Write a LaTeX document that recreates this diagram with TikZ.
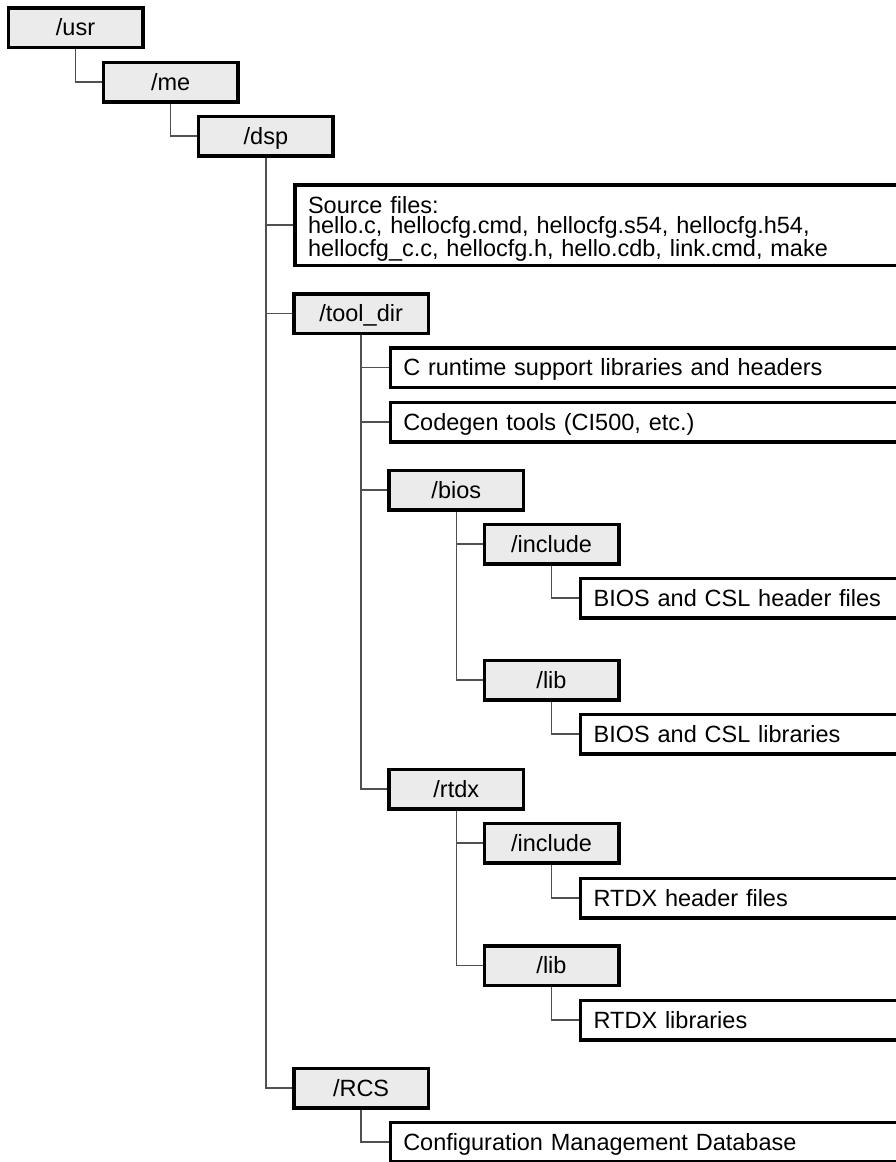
\documentclass[tikz,border=0pt]{standalone}
\usepackage{fontspec}
\setmainfont{Liberation Sans}
\usepackage{tikz}
\definecolor{dirgray}{HTML}{EBEBEB}
\definecolor{linegray}{HTML}{505050}
\tikzset{
    dirbox/.style={draw, line width=3.5pt, fill=dirgray, minimum width=134.5pt, minimum height=39.5pt,
        inner sep=0pt, text height=16.8pt, text depth=0pt},
    filebox/.style={draw, line width=3.5pt, fill=white, anchor=west, minimum height=39.5pt,
        inner xsep=13pt, inner ysep=0pt, align=left, text width=#1, text height=16.8pt, text depth=0pt},
    branch/.style={draw=linegray, line width=1.3pt}
}

\begin{document}
\begin{tikzpicture}[x=1pt, y=-1pt, font=\fontsize{23.5}{19.5}\selectfont]
        \useasboundingbox (0,0) rectangle (896,1162);
        \clip (0,0) rectangle (896,1162);

        % Directory boxes
        \node[dirbox] (usr) at (75.5,27.5) {/usr};
        \node[dirbox] (me) at (170.7,82) {/me};
        \node[dirbox] (dsp) at (265.9,136) {/dsp};
        \node[dirbox] (tooldir) at (361.1,313.5) {/tool\_dir};
        \node[dirbox] (bios) at (456.3,490) {/bios};
        \node[dirbox] (biosinc) at (551.5,544) {/include};
        \node[dirbox] (bioslib) at (551.5,680) {/lib};
        \node[dirbox] (rtdx) at (456.3,789) {/rtdx};
        \node[dirbox] (rtdxinc) at (551.5,843) {/include};
        \node[dirbox] (rtdxlib) at (551.5,965.5) {/lib};
        \node[dirbox] (rcs) at (361.1,1088) {/RCS};

        % File boxes, running off the right edge
        \node[filebox=600pt, minimum height=80.5pt, text depth=39pt] (src) at (293.3,225)
            {Source files:\\hello.c, hellocfg.cmd, hellocfg.s54, hellocfg.h54,\\hellocfg\_c.c, hellocfg.h, hello.cdb, link.cmd, make};
        \node[filebox=515pt] (crt) at (388.5,367.5) {C runtime support libraries and headers};
        \node[filebox=515pt] (codegen) at (388.5,422) {Codegen tools (CI500, etc.)};
        \node[filebox=324pt] (bioshdr) at (578.9,598) {BIOS and CSL header files};
        \node[filebox=324pt] (bioslibs) at (578.9,734) {BIOS and CSL libraries};
        \node[filebox=324pt] (rtdxhdr) at (578.9,898) {RTDX header files};
        \node[filebox=324pt] (rtdxlibs) at (578.9,1020) {RTDX libraries};
        \node[filebox=515pt] (cmdb) at (388.5,1142) {Configuration Management Database};

        % Tree lines
        \draw[branch] (usr.south) |- (me.west);
        \draw[branch] (me.south) |- (dsp.west);
        \draw[branch] (dsp.south) |- (src.west);
        \draw[branch] (dsp.south) |- (tooldir.west);
        \draw[branch] (dsp.south) |- (rcs.west);
        \draw[branch] (tooldir.south) |- (crt.west);
        \draw[branch] (tooldir.south) |- (codegen.west);
        \draw[branch] (tooldir.south) |- (bios.west);
        \draw[branch] (tooldir.south) |- (rtdx.west);
        \draw[branch] (bios.south) |- (biosinc.west);
        \draw[branch] (bios.south) |- (bioslib.west);
        \draw[branch] (biosinc.south) |- (bioshdr.west);
        \draw[branch] (bioslib.south) |- (bioslibs.west);
        \draw[branch] (rtdx.south) |- (rtdxinc.west);
        \draw[branch] (rtdx.south) |- (rtdxlib.west);
        \draw[branch] (rtdxinc.south) |- (rtdxhdr.west);
        \draw[branch] (rtdxlib.south) |- (rtdxlibs.west);
        \draw[branch] (rcs.south) |- (cmdb.west);
    \end{tikzpicture}
\end{document}
